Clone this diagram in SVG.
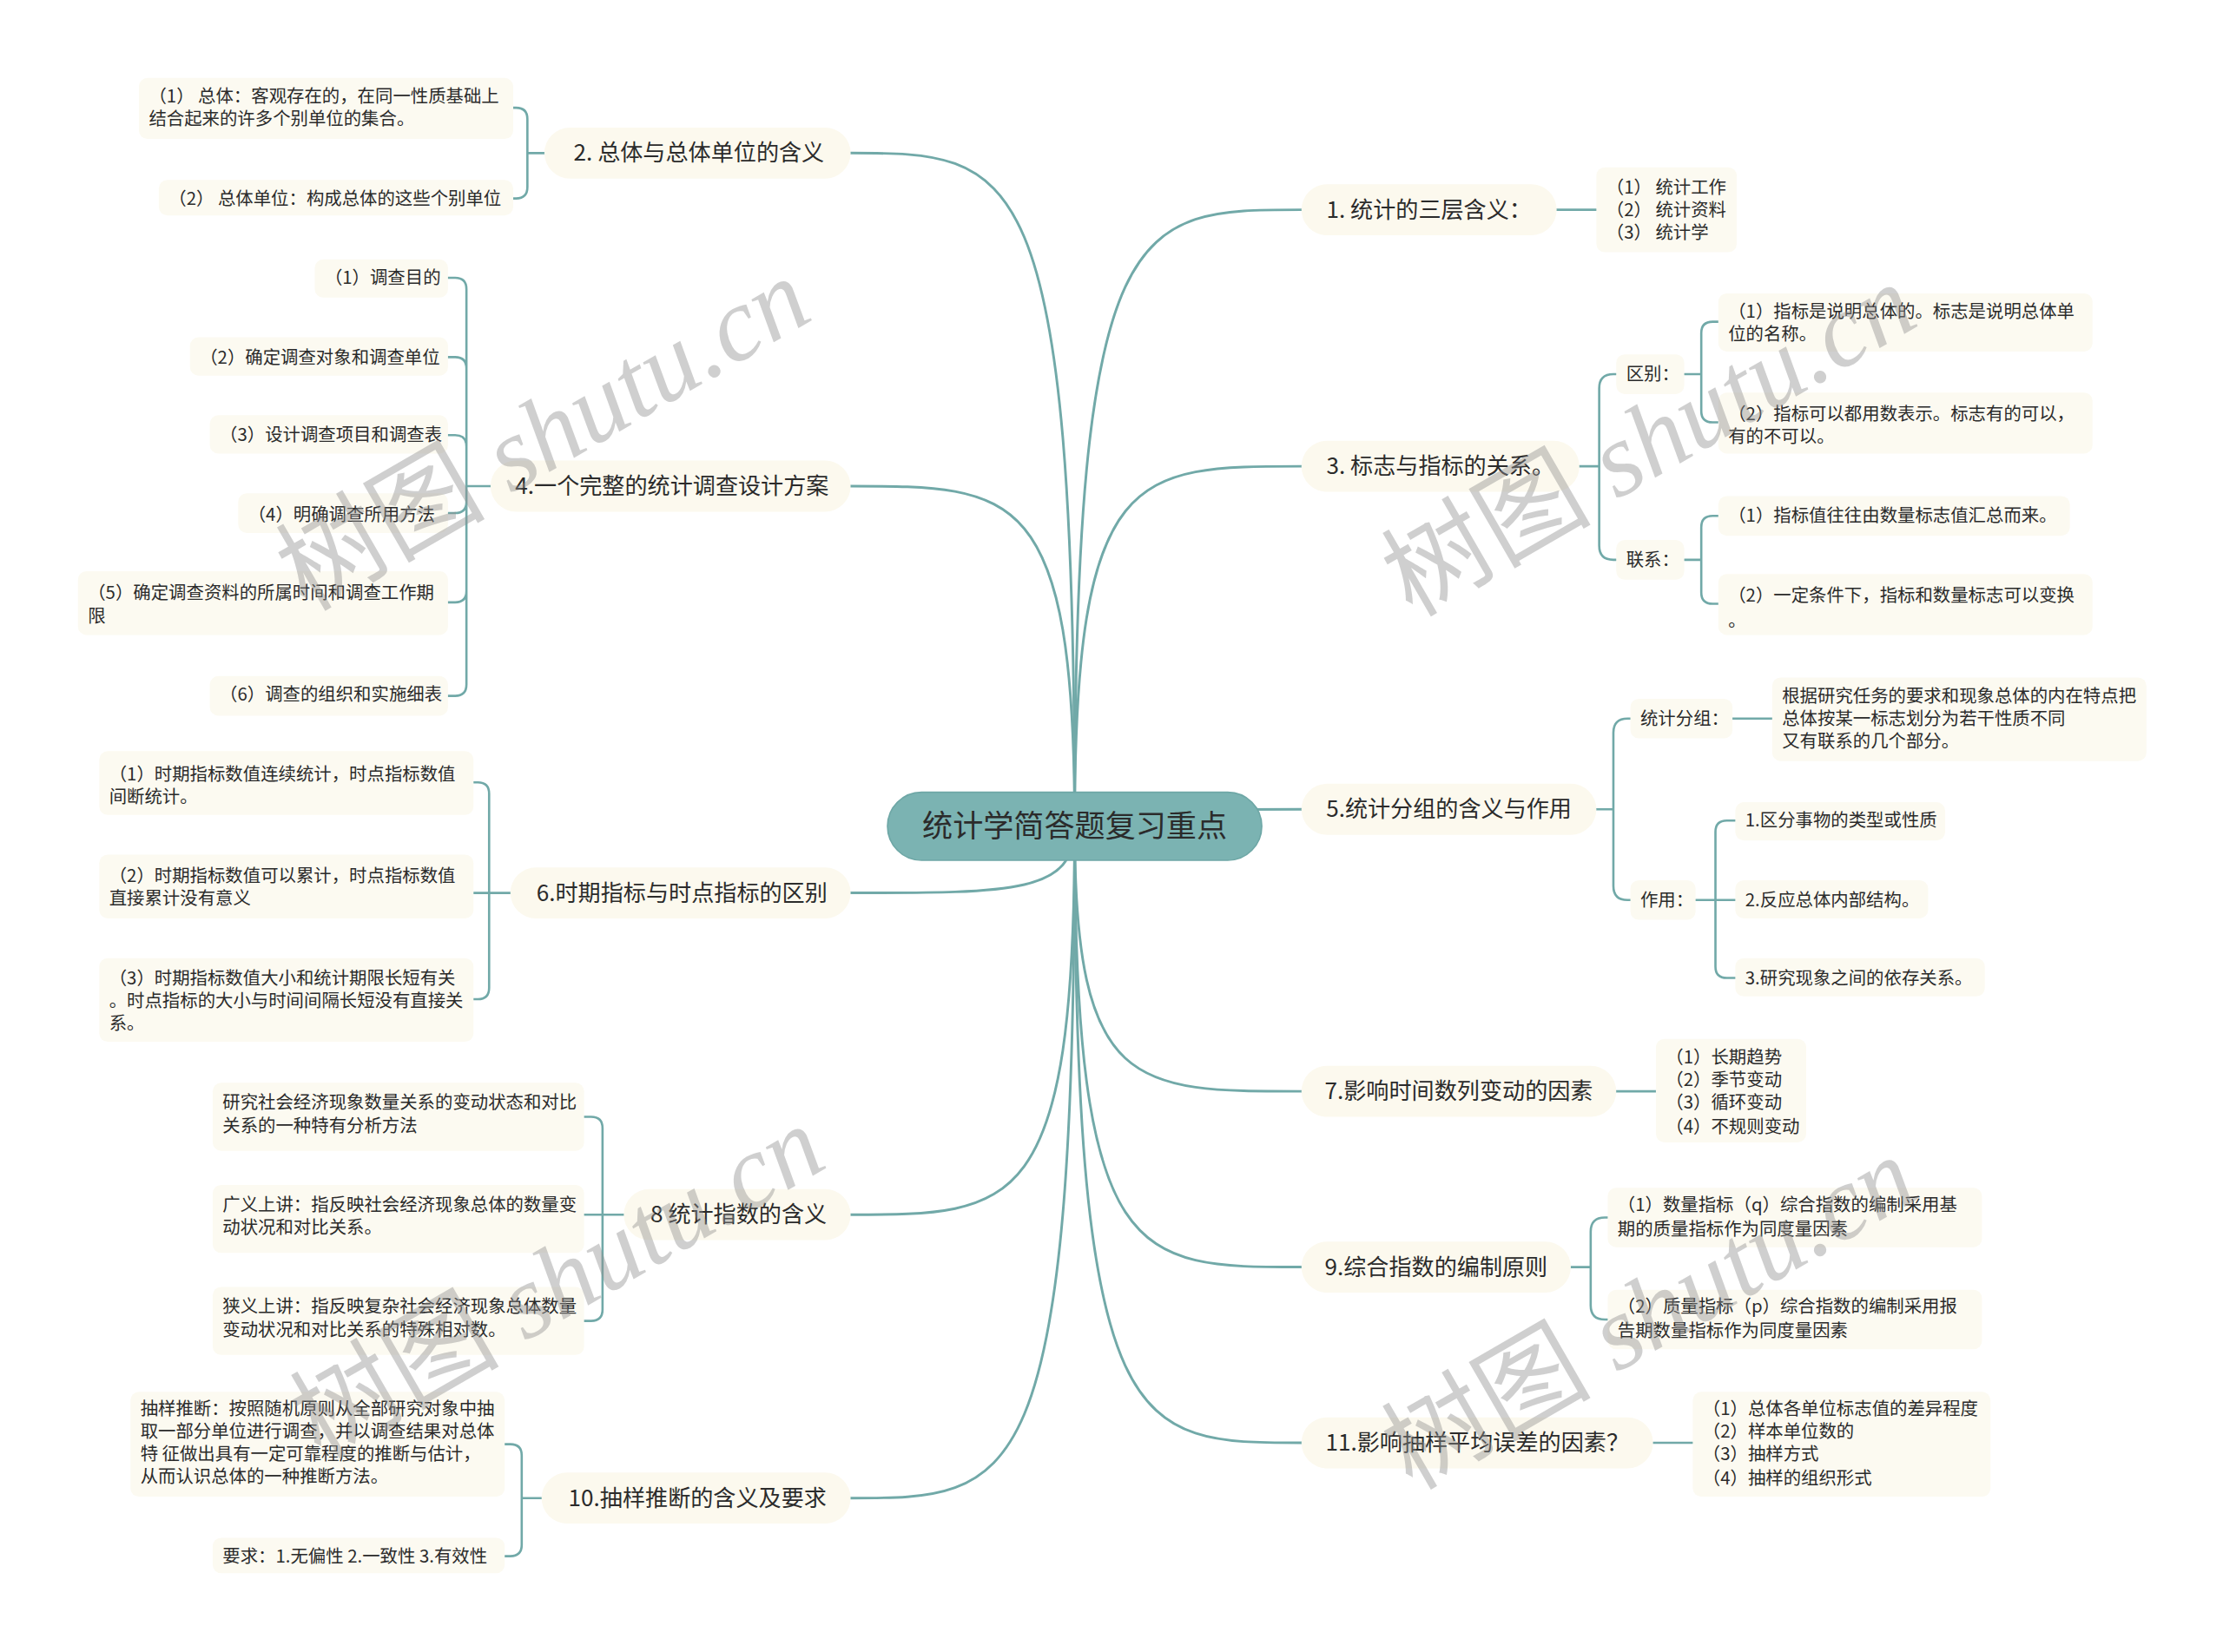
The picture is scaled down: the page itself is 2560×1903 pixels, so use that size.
<svg xmlns="http://www.w3.org/2000/svg" width="2560" height="1903" viewBox="0 0 2560 1903">
<style>
text{font-family:"Noto Sans CJK SC","Liberation Sans",sans-serif;fill:#2b2b2b}
.b{fill:#fcf9ee}
.l{fill:#fcfaf1}
.ctr{fill:#7bb3b2;stroke:#6ea7a6;stroke-width:1}
.t0{font-size:21.5px;text-anchor:middle}
.t1{font-size:16px;text-anchor:middle}
.t2{font-size:12.5px}
.c{fill:none;stroke:#71a9a8;stroke-width:1.8;stroke-linecap:round}
.k{fill:none;stroke:#71a9a8;stroke-width:1.6;stroke-linecap:round}
.wm{font-family:"Liberation Serif","Noto Sans CJK SC",serif;font-size:74px;fill:#8f8f8f;opacity:0.42}
.wm .it{font-style:italic}
</style>
<rect width="2560" height="1903" fill="#ffffff"/>
<g transform="scale(1.632653)">
<g id="connectors">
<path class="c" d="M758 583C758 148 800 148 918 148"/>
<path class="c" d="M758 583C758 329 800 329 918 329"/>
<path class="c" d="M758 583C758 571 800 571 918 571"/>
<path class="c" d="M758 583C758 770 800 770 918 770"/>
<path class="c" d="M758 583C758 894 800 894 918 894"/>
<path class="c" d="M758 583C758 1018 800 1018 918 1018"/>
<path class="c" d="M758 583C758 108 716 108 600 108"/>
<path class="c" d="M758 583C758 343 716 343 600 343"/>
<path class="c" d="M758 583C758 630 716 630 600 630"/>
<path class="c" d="M758 583C758 857 716 857 600 857"/>
<path class="c" d="M758 583C758 1057 716 1057 600 1057"/>
<path class="k" d="M1098 148H1126"/>
<path class="k" d="M1114 329H1128M1128 329V274Q1128 264 1138 264H1140M1128 329V385Q1128 395 1138 395H1140"/>
<path class="k" d="M1188 264H1200M1200 264V235Q1200 227 1208 227H1212M1200 264V290Q1200 298 1208 298H1212"/>
<path class="k" d="M1188 395H1200M1200 395V372Q1200 364 1208 364H1212M1200 395V418Q1200 426 1208 426H1212"/>
<path class="k" d="M1126 571H1138M1138 571V517Q1138 507 1148 507H1150M1138 571V625Q1138 635 1148 635H1150"/>
<path class="k" d="M1222 507H1250"/>
<path class="k" d="M1196 635H1224M1210 635V587Q1210 579 1218 579H1224M1210 635V682Q1210 690 1218 690H1224"/>
<path class="k" d="M1140 770H1168"/>
<path class="k" d="M1108 894H1122M1122 894V869Q1122 859 1132 859H1134M1122 894V921Q1122 931 1132 931H1134"/>
<path class="k" d="M1166 1018H1194"/>
<path class="k" d="M384 108H372M372 108V84Q372 76 364 76H362M372 108V132Q372 140 364 140H362"/>
<path class="k" d="M346 343H329M329 343V204Q329 196 321 196H316M329 343V260Q329 252 321 252H316M329 343V315Q329 307 321 307H316M329 343V354Q329 362 321 362H316M329 343V417Q329 425 321 425H316M329 343V483Q329 491 321 491H316"/>
<path class="k" d="M360 630H345M345 630V560Q345 552 337 552H334M345 630H334M345 630V697Q345 705 337 705H334"/>
<path class="k" d="M440 857H425M425 857V796Q425 788 417 788H412M425 857H412M425 857V924Q425 932 417 932H412"/>
<path class="k" d="M382 1057H368M368 1057V1027Q368 1019 360 1019H356M368 1057V1090Q368 1098 360 1098H356"/>
</g>

<g id="n-center"><rect class="ctr" x="626" y="559" width="264" height="48" rx="24"/><text class="t0" x="758" y="590.5">统计学简答题复习重点</text></g>

<g id="n-b1"><rect class="b" x="918" y="130" width="180" height="36" rx="18"/><text class="t1" x="1008" y="153.6">1. 统计的三层含义：</text></g>
<g id="n-b3"><rect class="b" x="918" y="311" width="196" height="36" rx="18"/><text class="t1" x="1016" y="334.6">3. 标志与指标的关系。</text></g>
<g id="n-b5"><rect class="b" x="918" y="553" width="208" height="36" rx="18"/><text class="t1" x="1022" y="576.6">5.统计分组的含义与作用</text></g>
<g id="n-b7"><rect class="b" x="918" y="752" width="222" height="36" rx="18"/><text class="t1" x="1029" y="775.6">7.影响时间数列变动的因素</text></g>
<g id="n-b9"><rect class="b" x="918" y="876" width="190" height="36" rx="18"/><text class="t1" x="1013" y="899.6">9.综合指数的编制原则</text></g>
<g id="n-b11"><rect class="b" x="918" y="1000" width="248" height="36" rx="18"/><text class="t1" x="1042" y="1023.6">11.影响抽样平均误差的因素？</text></g>
<g id="n-b2"><rect class="b" x="384" y="90" width="216" height="36" rx="18"/><text class="t1" x="493" y="113.6">2. 总体与总体单位的含义</text></g>
<g id="n-b4"><rect class="b" x="346" y="325" width="254" height="36" rx="18"/><text class="t1" x="474" y="348.6">4.一个完整的统计调查设计方案</text></g>
<g id="n-b6"><rect class="b" x="360" y="612" width="240" height="36" rx="18"/><text class="t1" x="481" y="635.6">6.时期指标与时点指标的区别</text></g>
<g id="n-b8"><rect class="b" x="440" y="839" width="160" height="36" rx="18"/><text class="t1" x="521" y="862.6">8 统计指数的含义</text></g>
<g id="n-b10"><rect class="b" x="382" y="1039" width="218" height="36" rx="18"/><text class="t1" x="492" y="1062.6">10.抽样推断的含义及要求</text></g>

<g id="n-s-qubie"><rect class="l" x="1140" y="250" width="48" height="28" rx="6"/><text class="t2" x="1147" y="268.4">区别：</text></g>
<g id="n-s-lianxi"><rect class="l" x="1140" y="381" width="48" height="28" rx="6"/><text class="t2" x="1147" y="399.4">联系：</text></g>
<g id="n-s-tjfz"><rect class="l" x="1150" y="493" width="72" height="28" rx="6"/><text class="t2" x="1157" y="511.4">统计分组：</text></g>
<g id="n-s-zuoyong"><rect class="l" x="1150" y="621" width="46" height="28" rx="6"/><text class="t2" x="1157" y="639.4">作用：</text></g>

<g id="n-l1"><rect class="l" x="1126" y="118" width="99" height="60" rx="6"/><text class="t2" x="1133" y="136.4">（1） 统计工作</text><text class="t2" x="1133" y="152.4">（2） 统计资料</text><text class="t2" x="1133" y="168.4">（3） 统计学</text></g>
<g id="n-l3a"><rect class="l" x="1212" y="207" width="264" height="41" rx="6"/><text class="t2" x="1219" y="224.4">（1）指标是说明总体的。标志是说明总体单</text><text class="t2" x="1219" y="240.4">位的名称。</text></g>
<g id="n-l3b"><rect class="l" x="1212" y="277" width="264" height="43" rx="6"/><text class="t2" x="1219" y="296.4">（2）指标可以都用数表示。标志有的可以，</text><text class="t2" x="1219" y="312.4">有的不可以。</text></g>
<g id="n-l3c"><rect class="l" x="1212" y="350" width="248" height="28" rx="6"/><text class="t2" x="1219" y="368.4">（1）指标值往往由数量标志值汇总而来。</text></g>
<g id="n-l3d"><rect class="l" x="1212" y="405" width="264" height="43" rx="6"/><text class="t2" x="1219" y="424.4">（2）一定条件下，指标和数量标志可以变换</text><text class="t2" x="1219" y="442.4">。</text></g>
<g id="n-l5a"><rect class="l" x="1250" y="478" width="264" height="59" rx="6"/><text class="t2" x="1257" y="495.4">根据研究任务的要求和现象总体的内在特点把</text><text class="t2" x="1257" y="511.4">总体按某一标志划分为若干性质不同</text><text class="t2" x="1257" y="527.4">又有联系的几个部分。</text></g>
<g id="n-l5b"><rect class="l" x="1224" y="566" width="148" height="27" rx="6"/><text class="t2" x="1231" y="583.4">1.区分事物的类型或性质</text></g>
<g id="n-l5c"><rect class="l" x="1224" y="621" width="136" height="27" rx="6"/><text class="t2" x="1231" y="639.4">2.反应总体内部结构。</text></g>
<g id="n-l5d"><rect class="l" x="1224" y="676" width="176" height="27" rx="6"/><text class="t2" x="1231" y="694.4">3.研究现象之间的依存关系。</text></g>
<g id="n-l7"><rect class="l" x="1168" y="733" width="106" height="73" rx="6"/><text class="t2" x="1175" y="750.4">（1）长期趋势</text><text class="t2" x="1175" y="766.4">（2）季节变动</text><text class="t2" x="1175" y="782.4">（3）循环变动</text><text class="t2" x="1175" y="799.4">（4）不规则变动</text></g>
<g id="n-l9a"><rect class="l" x="1134" y="838" width="264" height="42" rx="6"/><text class="t2" x="1141" y="854.4">（1）数量指标（q）综合指数的编制采用基</text><text class="t2" x="1141" y="871.4">期的质量指标作为同度量因素</text></g>
<g id="n-l9b"><rect class="l" x="1134" y="910" width="264" height="42" rx="6"/><text class="t2" x="1141" y="926.4">（2）质量指标（p）综合指数的编制采用报</text><text class="t2" x="1141" y="943.4">告期数量指标作为同度量因素</text></g>
<g id="n-l11"><rect class="l" x="1194" y="982" width="210" height="74" rx="6"/><text class="t2" x="1201" y="998.4">（1）总体各单位标志值的差异程度</text><text class="t2" x="1201" y="1014.4">（2）样本单位数的</text><text class="t2" x="1201" y="1030.4">（3）抽样方式</text><text class="t2" x="1201" y="1047.4">（4）抽样的组织形式</text></g>

<g id="n-l2a"><rect class="l" x="98" y="55" width="264" height="43" rx="6"/><text class="t2" x="105" y="72.4">（1） 总体：客观存在的，在同一性质基础上</text><text class="t2" x="105" y="88.4">结合起来的许多个别单位的集合。</text></g>
<g id="n-l2b"><rect class="l" x="112" y="127" width="250" height="25" rx="6"/><text class="t2" x="119" y="144.4">（2） 总体单位：构成总体的这些个别单位</text></g>
<g id="n-l4a"><rect class="l" x="222" y="183" width="94" height="27" rx="6"/><text class="t2" x="229" y="200.4">（1）调查目的</text></g>
<g id="n-l4b"><rect class="l" x="134" y="238" width="182" height="27" rx="6"/><text class="t2" x="141" y="256.4">（2）确定调查对象和调查单位</text></g>
<g id="n-l4c"><rect class="l" x="148" y="293" width="168" height="27" rx="6"/><text class="t2" x="155" y="311.4">（3）设计调查项目和调查表</text></g>
<g id="n-l4d"><rect class="l" x="168" y="348" width="148" height="28" rx="6"/><text class="t2" x="175" y="367.4">（4）明确调查所用方法</text></g>
<g id="n-l4e"><rect class="l" x="55" y="403" width="261" height="45" rx="6"/><text class="t2" x="62" y="422.4">（5）确定调查资料的所属时间和调查工作期</text><text class="t2" x="62" y="439.4">限</text></g>
<g id="n-l4f"><rect class="l" x="148" y="477" width="168" height="28" rx="6"/><text class="t2" x="155" y="494.4">（6）调查的组织和实施细表</text></g>
<g id="n-l6a"><rect class="l" x="70" y="530" width="264" height="45" rx="6"/><text class="t2" x="77" y="550.4">（1）时期指标数值连续统计，时点指标数值</text><text class="t2" x="77" y="566.4">间断统计。</text></g>
<g id="n-l6b"><rect class="l" x="70" y="603" width="264" height="45" rx="6"/><text class="t2" x="77" y="622.4">（2）时期指标数值可以累计，时点指标数值</text><text class="t2" x="77" y="638.4">直接累计没有意义</text></g>
<g id="n-l6c"><rect class="l" x="70" y="676" width="264" height="59" rx="6"/><text class="t2" x="77" y="694.4">（3）时期指标数值大小和统计期限长短有关</text><text class="t2" x="77" y="710.4">。时点指标的大小与时间间隔长短没有直接关</text><text class="t2" x="77" y="726.4">系。</text></g>
<g id="n-l8a"><rect class="l" x="150" y="764" width="262" height="48" rx="6"/><text class="t2" x="157" y="782.4">研究社会经济现象数量关系的变动状态和对比</text><text class="t2" x="157" y="798.4">关系的一种特有分析方法</text></g>
<g id="n-l8b"><rect class="l" x="150" y="836" width="262" height="48" rx="6"/><text class="t2" x="157" y="854.4">广义上讲：指反映社会经济现象总体的数量变</text><text class="t2" x="157" y="870.4">动状况和对比关系。</text></g>
<g id="n-l8c"><rect class="l" x="150" y="908" width="262" height="48" rx="6"/><text class="t2" x="157" y="926.4">狭义上讲：指反映复杂社会经济现象总体数量</text><text class="t2" x="157" y="942.4">变动状况和对比关系的特殊相对数。</text></g>
<g id="n-l10a"><rect class="l" x="92" y="982" width="264" height="74" rx="6"/><text class="t2" x="99" y="998.4">抽样推断：按照随机原则从全部研究对象中抽</text><text class="t2" x="99" y="1014.4">取一部分单位进行调查，并以调查结果对总体</text><text class="t2" x="99" y="1030.4">特 征做出具有一定可靠程度的推断与估计，</text><text class="t2" x="99" y="1046.4">从而认识总体的一种推断方法。</text></g>
<g id="n-l10b"><rect class="l" x="150" y="1085" width="206" height="25" rx="6"/><text class="t2" x="157" y="1102.4">要求：1.无偏性 2.一致性 3.有效性</text></g>

<g id="watermarks">
<text class="wm" transform="translate(216 432) rotate(-30)">树图 <tspan class="it">shutu.cn</tspan></text>
<text class="wm" transform="translate(996 436) rotate(-30)">树图 <tspan class="it">shutu.cn</tspan></text>
<text class="wm" transform="translate(226 1030) rotate(-30)">树图 <tspan class="it">shutu.cn</tspan></text>
<text class="wm" transform="translate(996 1052) rotate(-30)">树图 <tspan class="it">shutu.cn</tspan></text>
</g>
</g>
</svg>
